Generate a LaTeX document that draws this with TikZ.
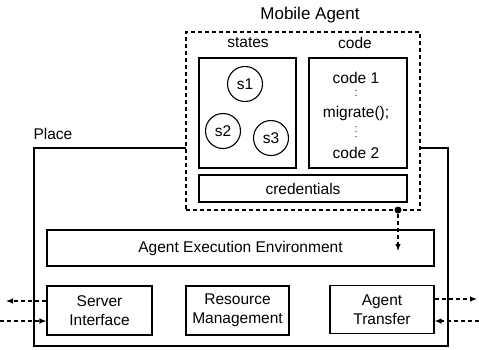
\documentclass[tikz,border=0pt]{standalone}
\usepackage{fontspec}
\setmainfont{Liberation Sans}
\usetikzlibrary{arrows.meta}

\begin{document}
\begin{tikzpicture}[x=1pt, y=-1pt, line width=1.1pt,
  font=\fontsize{15.5}{19}\selectfont,
  box/.style={draw, fill=white, align=center, inner sep=0pt},
  dashbox/.style={draw, fill=white, dash pattern=on 4pt off 3pt, inner sep=0pt},
  lbl/.style={inner sep=0pt, align=center},
  state/.style={draw, circle, minimum size=35pt, inner sep=0pt},
  dots/.style={line width=1.4pt, line cap=round, dash pattern=on 0pt off 5pt, shorten <=6pt, shorten >=5pt},
  flow/.style={dash pattern=on 4pt off 3pt, -{Latex[length=7pt,width=5.5pt]}}]
\useasboundingbox (0,0) rectangle (479,349);

% the place and its parts
\node[box, minimum width=414pt, minimum height=198pt] (place) at (241,247) {};
\node[lbl, anchor=west] (placelbl) at (33,134) {Place};
\node[box, minimum width=387pt, minimum height=36pt] (aee) at (240.5,248) {Agent Execution Environment};
\node[box, minimum width=105pt, minimum height=49pt] (server) at (99.5,310.5) {Server\\Interface};
\node[box, minimum width=103pt, minimum height=49pt] (resource) at (237.5,310.5) {Resource\\Management};
\node[box, minimum width=104pt, minimum height=48pt] (transfer) at (382,309.5) {Agent\\Transfer};

% the mobile agent sitting on the place
\node[dashbox, minimum width=234pt, minimum height=178pt] (agent) at (303,121) {};
\node[lbl, font=\fontsize{17}{20}\selectfont] (agentlbl) at (310,15) {Mobile Agent};
\node[lbl] (stateslbl) at (248,43) {states};
\node[lbl] (codelbl) at (355,43) {code};
\node[box, minimum width=97pt, minimum height=110pt] (states) at (247.5,113) {};
\node[box, minimum width=98pt, minimum height=110pt] (code) at (358,113) {};
\node[state] (s1) at (245,84) {s1};
\node[state] (s2) at (223,131) {s2};
\node[state] (s3) at (271,138) {s3};
\node[lbl] (code1) at (356,78) {code 1};
\node[lbl] (migrate) at (356,113) {migrate();};
\node[lbl] (code2) at (356,153) {code 2};
\draw[dots] (code1) -- (migrate);
\draw[dots] (migrate) -- (code2);
\node[box, minimum width=208pt, minimum height=27pt] (cred) at (303,188.5) {credentials};

% connectors
\node[circle, fill, inner sep=0pt, minimum size=7pt] (hook) at (398,210) {};
\coordinate (aeein) at (398,251);
\draw[flow] (hook) -- (aeein);
\coordinate (wout) at (6,301);
\coordinate (win) at (0,321);
\coordinate (eout) at (477,299);
\coordinate (ein) at (479,321);
\draw[flow] (server.west |- wout) -- (wout);
\draw[flow] (win) -- (server.west |- win);
\draw[flow] (transfer.east |- eout) -- (eout);
\draw[flow] (ein) -- (transfer.east |- ein);
\end{tikzpicture}
\end{document}
